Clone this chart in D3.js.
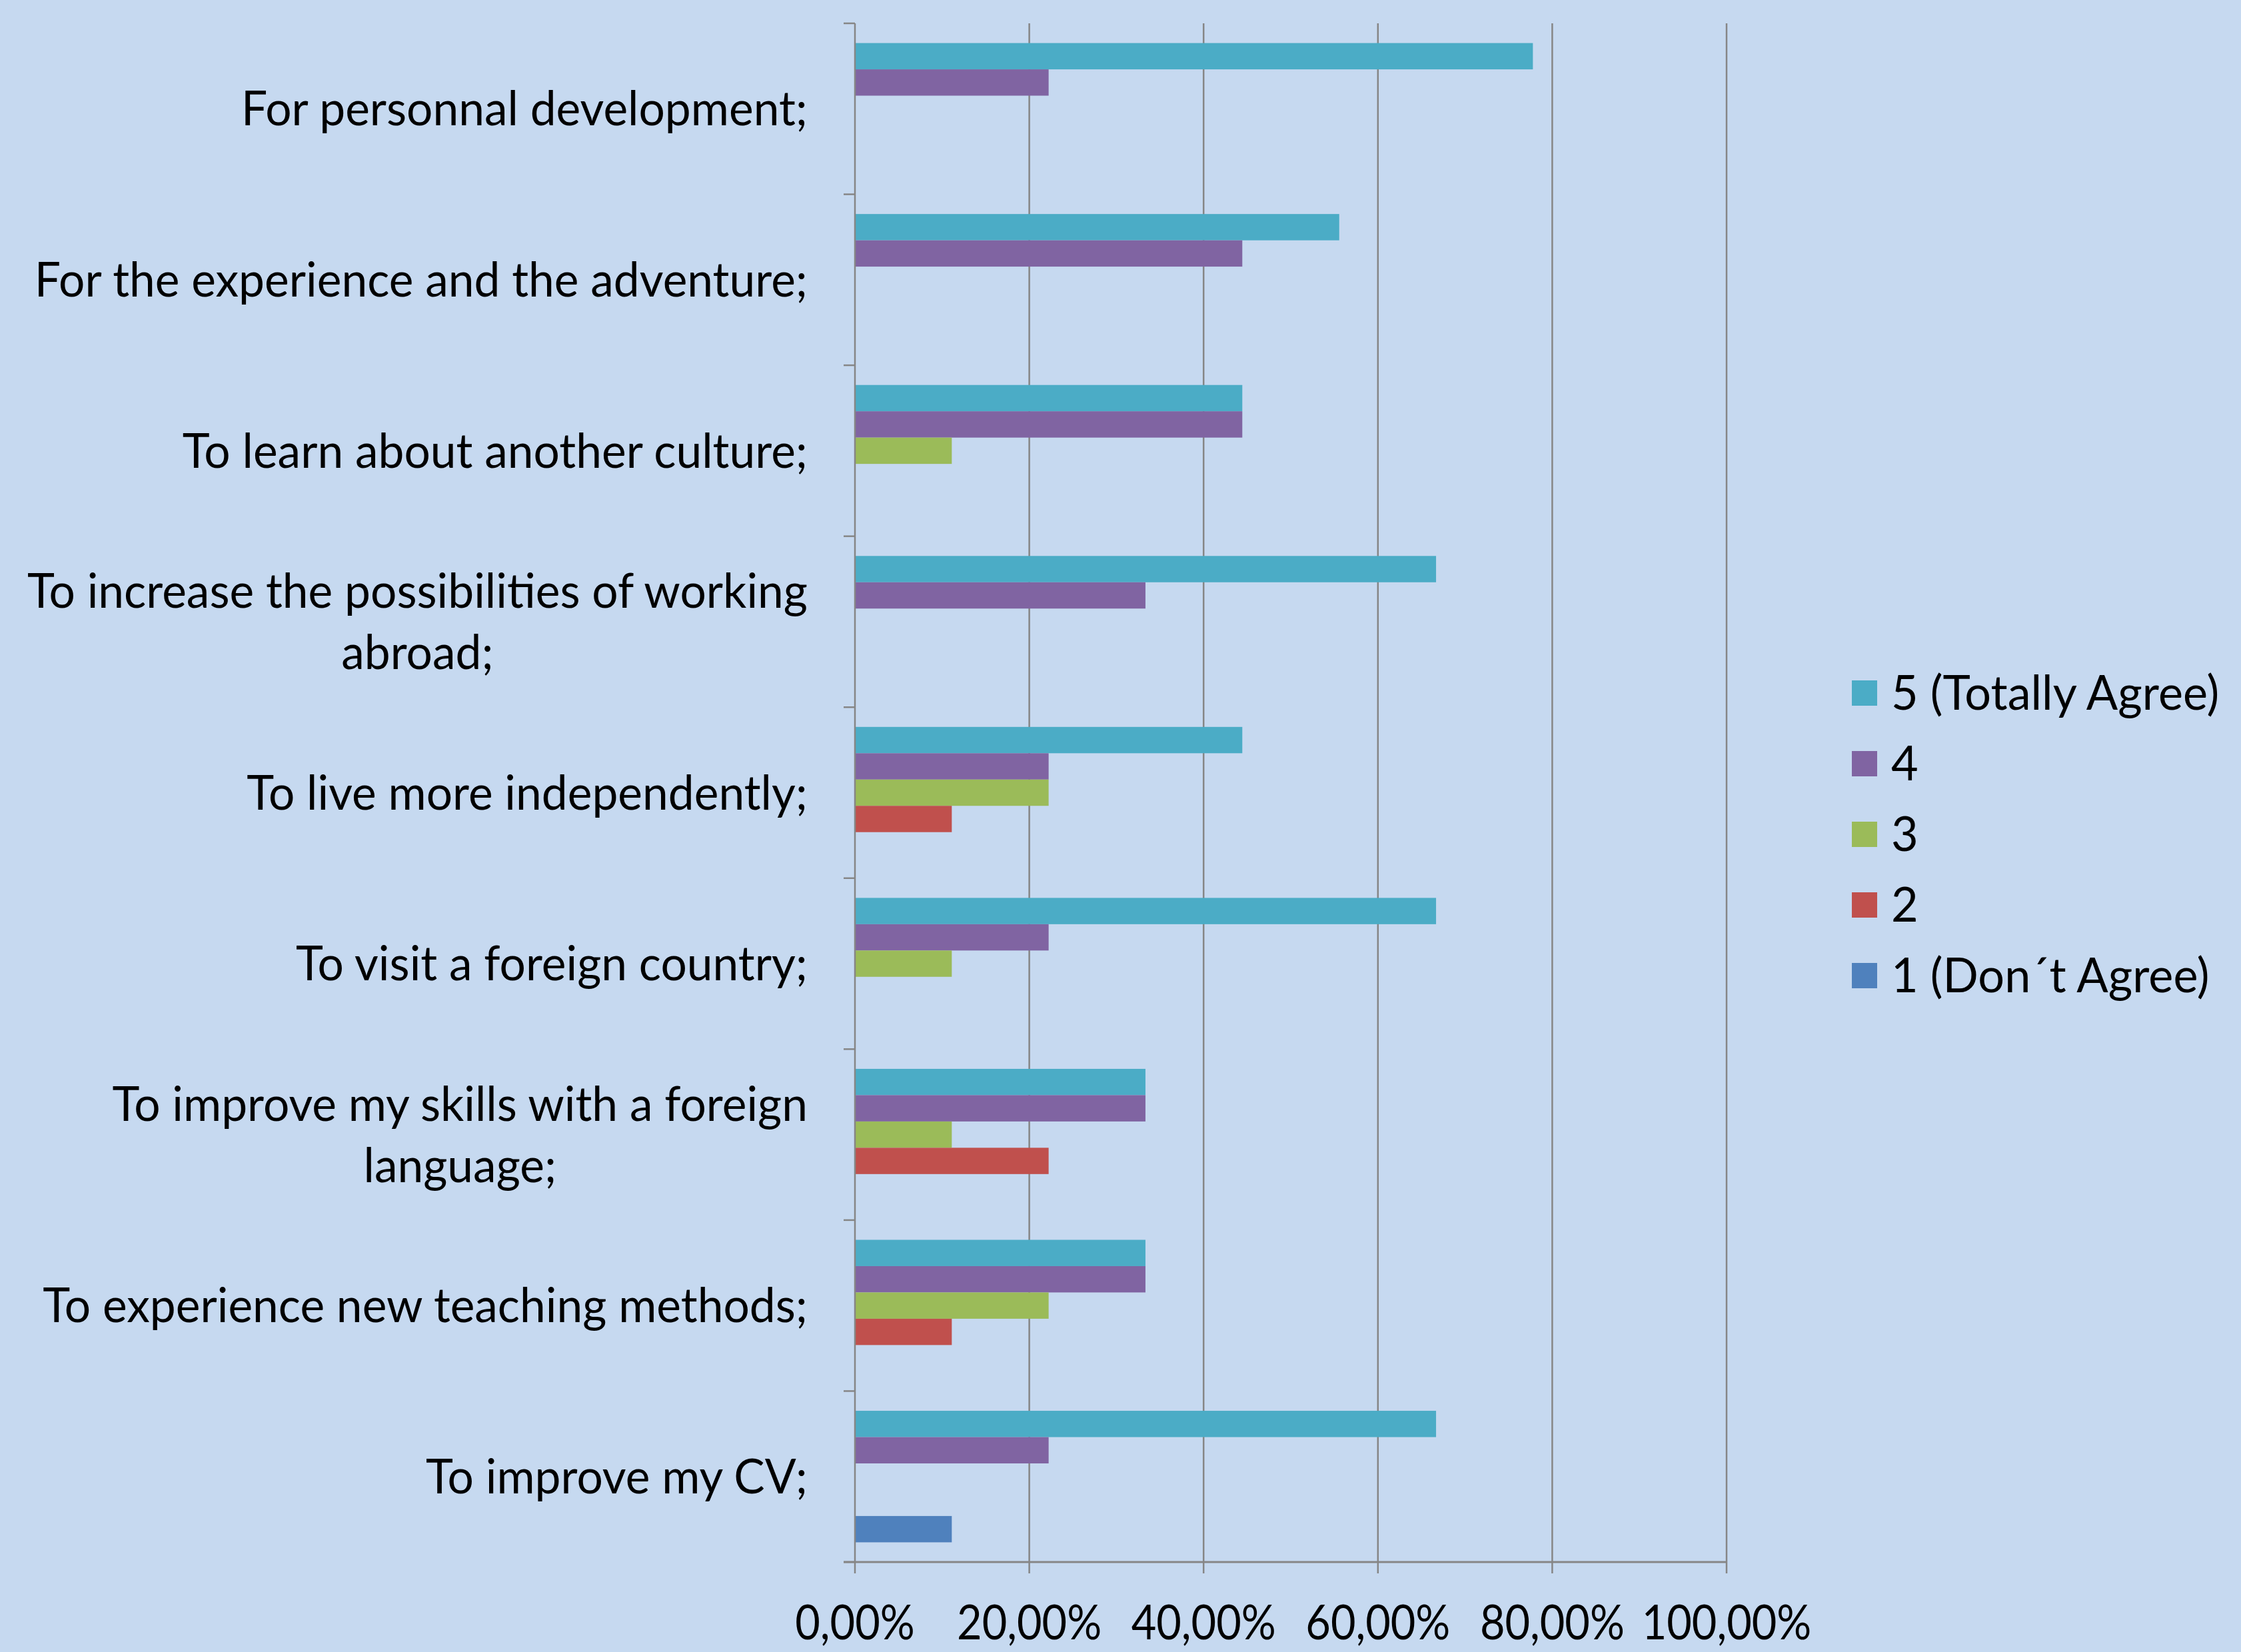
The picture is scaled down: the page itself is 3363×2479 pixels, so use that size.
<!DOCTYPE html>
<html>
<head>
<meta charset="utf-8">
<script src="https://cdn.jsdelivr.net/npm/d3@7"></script>
<style>
  html, body { margin: 0; padding: 0; background: #c6d9f0; }
  svg { display: block; }
  text { font-family: Lato, "Open Sans", sans-serif; fill: #000; }
</style>
</head>
<body>
<div id="chart"></div>
<script>
const categories = [
  ["For personnal development;"],
  ["For the experience and the adventure;"],
  ["To learn about another culture;"],
  ["To increase the possibilities of working", "abroad;"],
  ["To live more independently;"],
  ["To visit a foreign country;"],
  ["To improve my skills with a foreign", "language;"],
  ["To experience new teaching methods;"],
  ["To improve my CV;"],
];

const seriesNames = ["5 (Totally Agree)", "4", "3", "2", "1 (Don\u00b4t Agree)"];
const seriesColors = ["#4bacc6", "#8064a2", "#9bbb59", "#c0504d", "#4f81bd"];

// shares per category, same order as categories
const agree5 = [0.7778, 0.5556, 0.4444, 0.6667, 0.4444, 0.6667, 0.3333, 0.3333, 0.6667];
const agree4 = [0.2222, 0.4444, 0.4444, 0.3333, 0.2222, 0.2222, 0.3333, 0.3333, 0.2222];
const agree3 = [0, 0, 0.1111, 0, 0.2222, 0.1111, 0.1111, 0.2222, 0];
const agree2 = [0, 0, 0, 0, 0.1111, 0, 0.2222, 0.1111, 0];
const agree1 = [0, 0, 0, 0, 0, 0, 0, 0, 0.1111];

const xTicks = [0, 0.2, 0.4, 0.6, 0.8, 1.0];

const seriesValues = [agree5, agree4, agree3, agree2, agree1];

const d3 = window.d3;
const W = 3363, H = 2479;
const margin = { top: 35, right: 772, bottom: 135, left: 1283 };
const fontSize = 72;
const axisColor = "#868686";

const svg = d3.select("#chart").append("svg")
  .attr("width", W).attr("height", H)
  .attr("viewBox", `0 0 ${W} ${H}`);

svg.append("rect").attr("width", W).attr("height", H).attr("fill", "#c6d9f0");

const x = d3.scaleLinear().domain([0, 1]).range([margin.left, W - margin.right]);
const y = d3.scaleBand().domain(d3.range(categories.length))
  .range([margin.top, H - margin.bottom]).paddingInner(0).paddingOuter(0);
const ySub = d3.scaleBand().domain(d3.range(seriesNames.length))
  .range([0, y.bandwidth()]).paddingInner(0).paddingOuter(0.75);

const fmt = d3.formatLocale({ decimal: ",", thousands: ".", grouping: [3], currency: ["", "\u00a0€"] }).format(".2%");

// squeeze a text horizontally (Lato is a bit wider than the original font)
function condense(sel, factor) {
  sel.each(function () {
    const w = this.getComputedTextLength();
    d3.select(this).attr("textLength", w * factor).attr("lengthAdjust", "spacingAndGlyphs");
  });
}

// gridlines
svg.append("g").attr("class", "grid")
  .selectAll("line").data(xTicks.slice(1)).join("line")
  .attr("x1", (d) => x(d)).attr("x2", (d) => x(d))
  .attr("y1", margin.top).attr("y2", H - margin.bottom)
  .attr("stroke", axisColor).attr("stroke-width", 2.5);

// bars
const barData = [];
categories.forEach((cat, ci) => {
  seriesValues.forEach((vals, si) => {
    if (vals[ci] > 0) barData.push({ ci, si, value: vals[ci] });
  });
});

svg.append("g").attr("class", "bars")
  .selectAll("rect").data(barData).join("rect")
  .attr("x", x(0))
  .attr("y", (d) => y(d.ci) + ySub(d.si))
  .attr("width", (d) => x(d.value) - x(0))
  .attr("height", ySub.bandwidth())
  .attr("fill", (d) => seriesColors[d.si]);

// y axis
const yAxis = svg.append("g").attr("class", "y-axis");
yAxis.append("line")
  .attr("x1", x(0)).attr("x2", x(0))
  .attr("y1", margin.top).attr("y2", H - margin.bottom)
  .attr("stroke", axisColor).attr("stroke-width", 2.5);
yAxis.selectAll("line.tick").data(d3.range(categories.length + 1)).join("line")
  .attr("class", "tick")
  .attr("x1", x(0) - 17).attr("x2", x(0))
  .attr("y1", (i) => margin.top + i * y.step())
  .attr("y2", (i) => margin.top + i * y.step())
  .attr("stroke", axisColor).attr("stroke-width", 2.5);

// x axis
const xAxis = svg.append("g").attr("class", "x-axis");
xAxis.append("line")
  .attr("x1", x(0) - 17).attr("x2", x(1))
  .attr("y1", H - margin.bottom).attr("y2", H - margin.bottom)
  .attr("stroke", axisColor).attr("stroke-width", 3);
xAxis.selectAll("line.tick").data(xTicks).join("line")
  .attr("class", "tick")
  .attr("x1", (d) => x(d)).attr("x2", (d) => x(d))
  .attr("y1", H - margin.bottom).attr("y2", H - margin.bottom + 17)
  .attr("stroke", axisColor).attr("stroke-width", 2.5);
xAxis.selectAll("text").data(xTicks).join("text")
  .attr("x", (d) => x(d))
  .attr("y", H - margin.bottom + 116)
  .attr("text-anchor", "middle")
  .style("font-size", fontSize + "px")
  .text((d) => fmt(d))
  .call(condense, 0.9);

// category labels: lines centred on each other, block right-aligned
const labelRight = x(0) - 71;
const lineGap = 92;
const labels = svg.append("g").attr("class", "y-labels");
categories.forEach((lines, ci) => {
  const g = labels.append("g");
  const cy = y(ci) + y.bandwidth() / 2;
  const texts = lines.map((line, li) =>
    g.append("text")
      .attr("y", cy + (li - (lines.length - 1) / 2) * lineGap)
      .attr("dy", "0.35em")
      .attr("text-anchor", "middle")
      .style("font-size", fontSize + "px")
      .text(line)
      .call(condense, 0.965)
  );
  const maxW = d3.max(texts, (t) => +t.attr("textLength"));
  texts.forEach((t) => t.attr("x", labelRight - maxW / 2));
});

// legend
const legend = svg.append("g").attr("class", "legend")
  .attr("transform", "translate(2779,1040)");
seriesNames.forEach((name, i) => {
  const item = legend.append("g").attr("transform", `translate(0,${i * 106})`);
  item.append("rect").attr("x", 0).attr("y", -19).attr("width", 38).attr("height", 38)
    .attr("fill", seriesColors[i]);
  item.append("text").attr("x", 59).attr("dy", "0.35em")
    .style("font-size", fontSize + "px").text(name)
    .call(condense, 0.975);
});
</script>
</body>
</html>
